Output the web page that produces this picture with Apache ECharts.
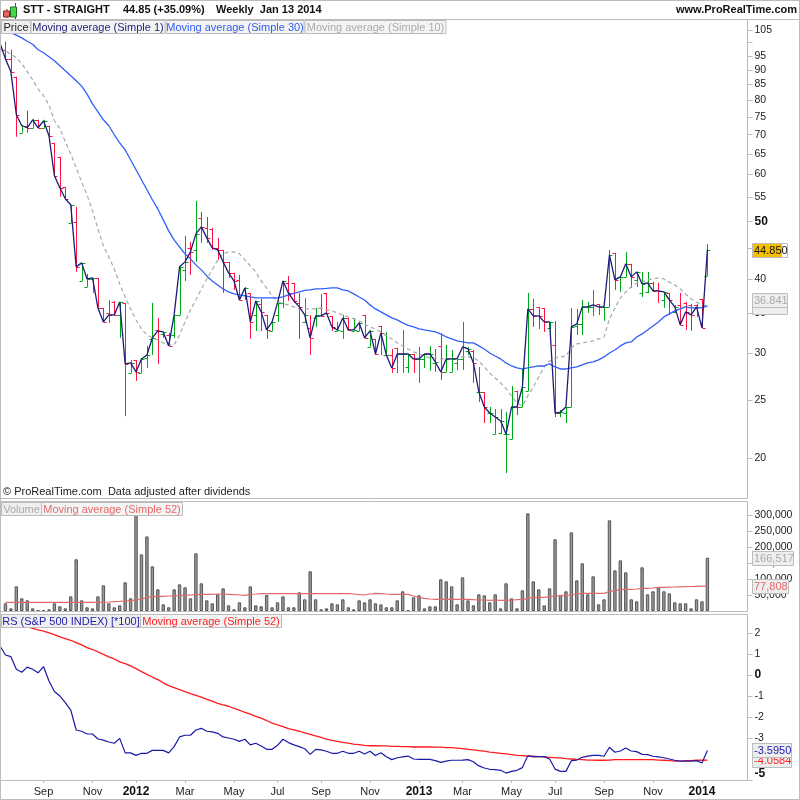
<!DOCTYPE html>
<html><head><meta charset="utf-8">
<style>html,body{margin:0;padding:0;background:#fff}#c{width:800px;height:800px}</style>
<script src="https://cdn.jsdelivr.net/npm/echarts@6/dist/echarts.min.js"></script>
</head><body><div id="c"></div>
<script>
const opens=[97.3,93.96,87.63,70.53,72.47,71.91,74.17,71.91,72.47,67.84,
64.26,57.2,49.75,49.94,39.72,38.81,40.03,40.19,35.78,35.09,
36.62,34.82,36.48,27.81,29.25,27.81,29.47,31.73,32.85,32.35,
32.22,32.22,34.82,41.46,45.15,44.8,50.72,48.79,48.6,45.15,
44.8,42.77,40.98,39.88,37.62,37.92,34.82,36.34,34.82,32.73,
34.82,36.48,39.41,39.41,36.48,33.89,33.11,34.42,35.78,37.92,
34.69,32.73,32.73,34.42,32.73,32.73,34.82,30.76,31.73,33.37,
29.82,29.82,30.64,29.93,28.46,29.93,29.36,29.36,29.93,28.91,
30.88,27.92,27.92,28.91,29.36,30.29,30.29,25.83,25.83,23.81,
21.95,22.03,21.95,21.53,25.94,24.37,25.94,35.64,35.92,35.78,
33.11,31.0,23.81,23.81,24.37,33.37,33.63,35.92,35.92,36.34,
35.92,35.92,44.28,40.35,40.35,42.44,39.88,37.92,38.06,39.41,
38.36,36.9,37.92,35.23,36.2,36.48,36.2,36.2,37.05,40.5];
const highs=[100.4,97.3,87.63,72.75,76.81,74.46,74.17,74.17,72.47,67.84,
64.26,57.2,53.35,52.93,42.6,40.82,40.19,40.19,35.78,36.9,
36.76,36.62,36.48,29.25,29.25,29.47,30.88,36.48,34.42,32.6,
32.47,34.82,41.95,47.3,46.22,54.18,51.9,50.9,48.79,46.94,
44.8,42.77,40.98,40.66,38.81,37.92,36.76,37.05,34.82,33.89,
36.48,39.72,40.5,39.41,37.92,37.19,34.82,35.78,37.77,37.92,
34.69,33.89,34.82,34.42,34.42,33.89,34.82,32.85,31.73,33.37,
32.6,30.52,30.64,32.85,29.93,29.93,30.76,29.93,30.88,30.52,
32.35,31.0,30.4,29.25,33.89,30.76,30.4,28.46,25.83,24.37,
24.18,24.18,23.9,26.45,25.94,28.24,37.92,37.05,35.92,35.78,
33.89,34.02,24.09,24.37,35.78,35.64,36.9,36.62,38.36,36.34,
35.92,44.8,44.28,40.35,44.45,42.44,41.14,41.14,41.14,39.57,
39.41,38.06,37.92,36.2,37.92,36.62,36.34,36.34,37.05,45.85];
const lows=[93.6,89.36,69.44,70.53,70.53,71.91,71.91,71.91,69.44,59.69,
55.02,54.6,49.75,41.14,39.72,38.81,37.92,35.78,33.89,33.76,
34.82,31.85,23.53,27.81,26.97,27.81,28.35,29.82,28.8,31.85,
30.88,31.85,34.82,39.72,40.66,42.77,46.03,46.03,44.8,43.1,
37.92,40.19,38.36,36.9,36.9,31.73,32.73,32.73,31.73,32.73,
33.89,35.78,36.76,36.48,31.73,33.76,29.82,33.24,34.69,35.09,
32.73,32.73,31.73,32.73,32.73,32.73,31.73,30.76,29.82,29.82,
29.82,27.81,27.81,27.81,27.81,27.81,26.76,28.35,28.03,27.92,
27.07,27.92,27.92,28.14,28.14,29.82,26.76,24.85,22.91,22.91,
21.95,21.95,18.87,21.53,23.62,24.37,25.94,33.24,32.98,32.6,
31.85,23.44,23.44,22.91,24.37,32.22,32.22,35.09,34.69,34.82,
34.02,35.92,38.36,38.06,40.35,38.66,38.81,37.33,37.92,38.06,
36.48,35.78,34.82,35.09,33.5,32.85,32.73,34.55,33.11,40.5];
const closes=[93.96,89.36,75.62,72.47,71.91,74.17,71.91,73.88,69.71,59.69,
56.98,54.6,53.35,41.95,42.6,40.03,40.19,35.78,33.89,34.82,
34.82,36.62,28.8,28.91,27.92,29.36,29.82,31.85,32.73,32.6,
30.88,34.82,41.95,42.77,44.45,47.67,48.98,46.94,45.15,44.8,
42.77,40.98,39.72,36.9,38.66,33.89,36.76,35.23,32.85,33.89,
36.48,39.72,37.92,36.76,35.92,34.82,31.85,34.69,34.69,35.09,
33.24,32.85,34.42,32.85,32.85,33.76,31.85,32.73,29.93,32.47,
29.82,28.35,29.93,29.93,29.93,29.36,29.36,29.93,29.93,29.02,
27.92,29.36,29.36,29.36,30.76,30.52,28.91,25.83,24.37,23.81,
23.44,23.09,21.95,24.37,24.37,26.34,35.64,34.69,34.69,33.89,
33.89,23.81,23.9,24.37,33.24,33.63,35.92,35.92,36.2,35.92,
35.92,43.94,39.88,40.35,42.44,40.35,41.14,39.26,39.41,38.21,
38.21,38.06,36.9,35.92,33.5,35.23,34.82,35.92,33.11,44.85];
const ma10=[96.93,95.62,94.33,92.17,89.36,86.61,83.64,81.41,78.62,73.89,
71.63,68.11,65.01,61.57,58.32,55.45,52.12,48.6,45.5,43.6,
41.62,39.26,37.33,35.64,34.15,32.98,32.22,31.85,31.6,31.24,
31.0,31.0,32.22,33.89,35.5,36.9,38.51,40.03,41.46,43.1,
44.11,44.45,44.45,44.11,43.1,42.11,41.14,39.72,38.66,37.48,
36.76,36.34,36.2,35.92,35.64,35.64,35.64,35.64,35.78,35.5,
35.37,35.09,34.82,34.55,34.29,34.02,33.63,33.24,32.98,32.6,
32.1,31.73,31.24,30.88,30.52,30.17,29.93,29.7,29.47,29.47,
29.36,29.36,29.36,29.47,29.59,29.59,29.47,29.13,28.46,27.81,
27.27,26.76,26.14,25.44,24.75,24.47,25.44,26.34,27.38,28.46,
29.13,29.47,29.59,29.7,30.64,31.12,31.24,31.36,31.48,31.73,
31.97,34.29,35.78,37.19,38.06,38.81,39.41,39.57,39.88,40.03,
40.19,40.03,39.57,39.11,38.51,37.77,37.05,36.62,36.2,36.06];
const ma30=[105.15,103.94,102.94,101.86,100.55,99.4,97.3,96.18,94.7,93.25,
91.46,89.7,88.0,86.3,84.5,81.9,78.9,76.5,74.17,72.47,
69.98,67.84,65.98,63.52,61.1,58.8,56.55,54.4,52.5,50.33,
48.23,46.58,45.3,44.11,43.27,42.27,41.46,40.5,39.72,39.11,
38.51,38.06,37.77,37.62,37.48,37.33,37.19,37.19,37.19,37.19,
37.19,37.33,37.62,37.84,38.06,38.28,38.36,38.51,38.51,38.58,
38.66,38.66,38.36,38.21,37.77,37.33,36.9,36.2,35.64,35.23,
34.82,34.42,34.15,33.76,33.43,33.24,32.98,32.85,32.73,32.6,
32.35,31.97,31.73,31.48,31.36,31.24,31.24,30.88,30.52,30.05,
29.7,29.36,28.91,28.57,28.35,28.24,28.35,28.46,28.57,28.57,
28.8,28.46,28.24,28.24,28.35,28.46,28.69,28.91,29.02,29.25,
29.59,30.05,30.4,30.88,31.24,31.36,31.97,32.35,32.85,33.37,
33.89,34.55,34.96,35.37,35.64,35.92,35.78,35.78,35.78,36.06];
const volumes=[24000,8300,77000,39600,33300,8300,2000,2000,5200,24000,
14600,8300,45800,161500,33300,11500,8300,45800,80200,24000,
11500,17700,89600,39600,306000,177000,233000,139600,67700,20800,
11500,67700,83300,74000,39600,180200,86500,33300,24000,52100,
70800,17700,5200,27100,11500,77000,17700,14600,50000,11500,
27100,45800,11500,11500,58300,36500,124000,36500,5200,8300,
24000,20800,36500,11500,5200,33300,27100,36500,24000,20800,
11500,11500,33300,61500,2000,42700,49000,8300,14600,14600,
99000,92700,77000,20800,105200,33300,17700,52100,49000,27100,
52100,8300,86500,39600,8300,64600,305200,92700,67700,17700,
70800,224000,49000,61500,245800,95800,149000,52100,108300,20800,
36500,283300,127100,158300,120800,36500,30200,136500,52100,61500,
74000,61500,55200,27100,24000,24000,8300,36500,30200,166517];
const volumeMA=[27100,27100,27100,27100,27100,27100,27100,27100,27100,27100,
27100,27100,27100,27100,27100,27100,27100,27100,27100,28100,
29200,30200,31300,32300,34400,37500,42700,44800,45800,45800,
46900,46900,47900,49000,50000,51000,52100,52100,52100,53100,
53100,52100,51000,50000,49000,52100,53100,54200,54200,54200,
54200,54200,54200,54200,54200,54200,54200,54200,54200,54200,
54200,54200,54200,54200,53100,51000,50000,53100,55200,54200,
53100,52100,52100,52100,52100,46900,42700,39600,37500,36500,
36500,36500,36500,36500,36500,36500,35400,34400,34400,33300,
34400,33300,33300,34400,35400,36500,39600,42700,42700,42700,
44800,46900,47900,49000,50000,53100,55200,55200,55200,55200,
55200,60400,64600,66700,67700,67700,68800,70800,70800,71900,
74000,74000,74500,75000,75500,76000,76500,77000,77500,77808];
const rsValues=[0.95,0.87,0.27,0.13,0.37,0.27,0.10,0.40,-0.29,-0.79,
-1.00,-1.32,-1.67,-2.62,-2.68,-2.81,-2.81,-3.05,-3.10,-3.19,
-3.25,-3.02,-3.71,-3.71,-3.83,-3.73,-3.73,-3.59,-3.59,-3.59,
-3.71,-3.41,-2.95,-2.87,-2.87,-2.62,-2.54,-2.68,-2.71,-2.78,
-2.95,-3.00,-3.06,-3.16,-3.06,-3.33,-3.25,-3.38,-3.54,-3.54,
-3.35,-3.06,-3.22,-3.33,-3.41,-3.51,-3.78,-3.54,-3.57,-3.63,
-3.73,-3.73,-3.63,-3.73,-3.73,-3.63,-3.76,-3.63,-3.83,-3.70,
-3.89,-4.03,-3.94,-3.90,-3.86,-4.00,-4.02,-4.02,-4.02,-4.08,
-4.16,-4.10,-4.06,-4.06,-4.05,-4.03,-4.13,-4.33,-4.43,-4.49,
-4.51,-4.54,-4.67,-4.59,-4.54,-4.41,-3.84,-3.90,-3.89,-3.89,
-4.00,-4.48,-4.59,-4.59,-4.08,-4.05,-3.92,-3.86,-3.83,-3.83,
-3.87,-3.44,-3.68,-3.62,-3.48,-3.62,-3.65,-3.78,-3.79,-3.87,
-3.90,-3.94,-4.00,-4.06,-4.10,-4.10,-4.10,-4.08,-4.19,-3.595];
const rsMA=[2.65,2.57,2.49,2.40,2.30,2.22,2.14,2.08,2.00,1.92,
1.81,1.73,1.65,1.54,1.43,1.30,1.21,1.10,0.98,0.86,
0.76,0.62,0.54,0.43,0.30,0.16,0.03,-0.10,-0.22,-0.38,
-0.51,-0.60,-0.70,-0.79,-0.89,-0.97,-1.06,-1.16,-1.25,-1.35,
-1.43,-1.49,-1.59,-1.68,-1.78,-1.87,-1.97,-2.06,-2.17,-2.29,
-2.38,-2.46,-2.56,-2.62,-2.68,-2.76,-2.83,-2.90,-2.97,-3.05,
-3.11,-3.16,-3.21,-3.25,-3.29,-3.32,-3.35,-3.37,-3.37,-3.38,
-3.38,-3.40,-3.40,-3.41,-3.41,-3.43,-3.43,-3.43,-3.43,-3.44,
-3.44,-3.46,-3.46,-3.48,-3.51,-3.54,-3.57,-3.60,-3.63,-3.67,
-3.70,-3.73,-3.76,-3.79,-3.83,-3.84,-3.86,-3.87,-3.89,-3.90,
-3.92,-3.94,-3.95,-3.98,-4.00,-4.02,-4.03,-4.05,-4.05,-4.06,
-4.06,-4.05,-4.03,-4.03,-4.03,-4.03,-4.03,-4.03,-4.03,-4.03,
-4.05,-4.06,-4.08,-4.10,-4.10,-4.08,-4.08,-4.06,-4.06,-4.0584];
// values of the week just before the first full bar, at the frame's left edge
const priorClose=99.8, priorMa10=97.3, priorMa30=106, priorRs=1.38, priorRsMA=2.72;

const priceTicks=[105,100,95,90,85,80,75,70,65,60,55,50,45,40,35,30,25,20];
const priceTickLabels=[105,95,90,85,80,75,70,65,60,55,50,40,35,30,25,20];
const priceBold=[50];
const volumeTicks=[300000,250000,200000,150000,100000,50000];
const rsTicks=[2,1,0,-1,-2,-3,-5];
const rsBold=[0,-5];
const timeTickBars=[7,16,24,33,42,50,58,67,76,84,93,101,110,119,128];
const timeTickLabels=['Sep','Nov','2012','Mar','May','Jul','Sep','Nov','2013','Mar','May','Jul','Sep','Nov','2014'];
const slotCount=138;

[opens,highs,lows,closes,ma10,ma30,volumes,volumeMA,rsValues,rsMA].forEach((a,i)=>{if(a.length!==130)throw new Error('len '+i+' '+a.length)});

const slots=Array.from({length:slotCount},(_,i)=>String(i));
const barData=closes.map((c,j)=>[j+1,opens[j],highs[j],lows[j],c]);
const FONT='"Liberation Sans",Arial,sans-serif';
const GRAY='#bcbcbc';
const X={left:0,width:745.5};

function xAxis(gridIndex,show){
  return {type:'category',gridIndex,data:slots,boundaryGap:false,show,
    axisLine:{show,onZero:false,lineStyle:{color:GRAY}},
    axisTick:{show,length:3,interval:i=>timeTickBars.includes(i-1),lineStyle:{color:GRAY}},
    axisLabel:{show,color:'#222',fontFamily:FONT,fontSize:11,margin:6,hideOverlap:false,
      interval:i=>timeTickBars.includes(i-1),
      formatter:(v,i)=>{const k=timeTickBars.indexOf(i-1);if(k<0)return '';const t=timeTickLabels[k];return /^\d/.test(t)?`{y|${t}}`:t;},
      rich:{y:{fontWeight:'bold',fontSize:12,fontFamily:FONT,color:'#111'}}},
    splitLine:{show:false}};
}
function yAxis(gridIndex,extra){
  return Object.assign({gridIndex,position:'right',offset:2,splitLine:{show:false},
    axisLine:{show:false},
    axisTick:{show:true,length:5,lineStyle:{color:GRAY}}},extra);
}
const labelBase={color:'#222',fontFamily:FONT,fontSize:10.5,margin:7,hideOverlap:false,showMinLabel:true,showMaxLabel:true};

function endTag(xi,yi,value,parts){
  return {type:'custom',xAxisIndex:xi,yAxisIndex:yi,clip:false,silent:true,z:20,
    data:[[130,value]],
    renderItem:(p,api)=>{
      const c=api.coord([api.value(0),api.value(1)]);
      const y=Math.round(c[1])+.5;
      const children=[];
      (parts.extra||[]).forEach(e=>children.push({type:'rect',shape:{x:752.5,y:y+e.dy,width:parts.w,height:e.h},style:{fill:'#eee',stroke:GRAY}}));
      children.push({type:'rect',shape:{x:752.5,y:y-7,width:parts.w,height:14},style:{fill:parts.bg||'#eee',stroke:GRAY}});
      if(parts.gold)children.push({type:'rect',shape:{x:753,y:y-6.5,width:parts.gold,height:13},style:{fill:'#f6c000'}});
      children.push({type:'text',style:{x:754,y:y,text:parts.text,fill:parts.color,font:'11px '+FONT,verticalAlign:'middle',rich:parts.rich}});
      return {type:'group',children};
    }};
}

const tagList=[
 // text, x, y, width, height, text color, fill
 ['Price',1.5,20.5,29,13,'#222','#efefef'],
 ['Moving average (Simple 1)',31,20.5,134,13,'#23237f','#f4f4f4'],
 ['Moving average (Simple 30)',166,20.5,138,13,'#2f5cf0','#f4f4f4'],
 ['Moving average (Simple 10)',305,20.5,141,13,'#aaaaaa','#f4f4f4'],
 ['Volume',1.5,502.5,40,13,'#aaaaaa','#efefef'],
 ['Moving average (Simple 52)',41.5,502.5,141,13,'#e26a6a','#f4f4f4'],
 ['RS (S&P 500 INDEX) [*100]',1.5,614.5,139,13,'#2222aa','#efefef'],
 ['Moving average (Simple 52)',140.5,614.5,141,13,'#ff2020','#f4f4f4']
];
const frame=[[0,0.5,800,0.5],[0,19.5,800,19.5],[0.5,0,0.5,800],[799.5,0,799.5,800],[0,799.5,800,799.5],
 [0,498.5,747,498.5],[0,501.5,747,501.5],[0,611.5,747,611.5],[0,614.5,747,614.5],[0,780.5,747,780.5],
 [747.5,19,747.5,499],[747.5,501,747.5,612],[747.5,614,747.5,781]];
const graphic=[];
frame.forEach(f=>graphic.push({type:'line',silent:true,z:50,shape:{x1:f[0],y1:f[1],x2:f[2],y2:f[3]},style:{stroke:GRAY,lineWidth:1}}));
tagList.forEach(t=>{
  graphic.push({type:'rect',silent:true,z:60,shape:{x:t[1],y:t[2],width:t[3],height:t[4]},style:{fill:t[6],stroke:GRAY}});
  graphic.push({type:'text',silent:true,z:61,x:t[1]+t[3]/2,y:t[2]+t[4]/2+0.5,style:{text:t[0],fill:t[5],font:'11px '+FONT,align:'center',verticalAlign:'middle'}});
});
[['STT - STRAIGHT',23,10,'left'],['44.85 (+35.09%)',123,10,'left'],['Weekly  Jan 13 2014',216,10,'left'],['www.ProRealTime.com',797,10,'right']].forEach(t=>
  graphic.push({type:'text',silent:true,z:61,x:t[1],y:t[2],style:{text:t[0],fill:'#111',font:'bold 11px '+FONT,align:t[3],verticalAlign:'middle'}}));
graphic.push({type:'text',silent:true,z:61,x:3,y:492,style:{text:'\u00a9 ProRealTime.com  Data adjusted after dividends',fill:'#222',font:'11px '+FONT,align:'left',verticalAlign:'middle'}});
// title icon: small candles
[[4,11,6,6,'#e86060','#8a2020',5.5,9,18],[11,7,6,10,'#44d844','#207020',14,3,19]].forEach(k=>{
  graphic.push({type:'line',silent:true,z:60,shape:{x1:k[6]+1.5,y1:k[7],x2:k[6]+1.5,y2:k[8]},style:{stroke:k[5]}});
  graphic.push({type:'rect',silent:true,z:61,shape:{x:k[0]-.5,y:k[1],width:k[2],height:k[3]},style:{fill:k[4],stroke:k[5]}});
});

const chart=echarts.init(document.getElementById('c'),null,{renderer:'canvas',width:800,height:800});
chart.setOption({
  animation:false,backgroundColor:'#fff',
  grid:[
    Object.assign({top:19,height:479},X),
    Object.assign({top:501,height:110},X),
    Object.assign({top:614,height:166},X)
  ],
  xAxis:[xAxis(0,false),xAxis(1,false),xAxis(2,true)],
  yAxis:[
    yAxis(0,{type:'log',logBase:10,min:17.13,max:109.6,
      axisTick:{show:true,length:5,lineStyle:{color:GRAY},customValues:priceTicks},
      axisLabel:Object.assign({},labelBase,{customValues:priceTickLabels,
        formatter:v=>priceBold.includes(Math.round(v))?`{b|${Math.round(v)}}`:String(Math.round(v)),
        rich:{b:{fontWeight:'bold',fontSize:12,fontFamily:FONT,color:'#111'}}})}),
    yAxis(1,{type:'value',min:0,max:343750,
      axisTick:{show:true,length:5,lineStyle:{color:GRAY},customValues:volumeTicks},
      axisLabel:Object.assign({},labelBase,{customValues:volumeTicks,formatter:v=>v.toLocaleString('en-US')})}),
    yAxis(2,{type:'value',min:-5,max:2.9,
      axisTick:{show:true,length:5,lineStyle:{color:GRAY},customValues:rsTicks},
      axisLabel:Object.assign({},labelBase,{customValues:rsTicks,
        formatter:v=>v===-5?`{m|${v}}`:(rsBold.includes(v)?`{b|${v}}`:String(v)),
        rich:{b:{fontWeight:'bold',fontSize:12,fontFamily:FONT,color:'#111'},
              m:{fontWeight:'bold',fontSize:12,fontFamily:FONT,color:'#111',padding:[0,0,12,0]}}})})
  ],
  graphic,
  series:[
    {name:'Price',type:'custom',xAxisIndex:0,yAxisIndex:0,z:2,silent:true,clip:true,
     encode:{x:0,y:[1,2,3,4]},data:barData,
     renderItem:(p,api)=>{
       const i=api.value(0),o=api.value(1),h=api.value(2),l=api.value(3),c=api.value(4);
       const col=c>=o?'#00a818':'#ff1444';
       const x=Math.round(api.coord([i,h])[0])+.5;
       const yh=api.coord([i,h])[1],yl=api.coord([i,l])[1];
       const yo=Math.round(api.coord([i,o])[1])+.5,yc=Math.round(api.coord([i,c])[1])+.5;
       const style={stroke:col,lineWidth:1,fill:null};
       return {type:'group',children:[
         {type:'line',shape:{x1:x,y1:yh,x2:x,y2:yl},style},
         {type:'line',shape:{x1:x-3,y1:yo,x2:x,y2:yo},style},
         {type:'line',shape:{x1:x,y1:yc,x2:x+3,y2:yc},style}]};
     }},
    {name:'MA10',type:'line',xAxisIndex:0,yAxisIndex:0,z:3,data:[priorMa10,...ma10],showSymbol:false,silent:true,
     lineStyle:{color:'#a8a8a8',width:1.2,type:[4,3]}},
    {name:'MA30',type:'line',xAxisIndex:0,yAxisIndex:0,z:4,data:[priorMa30,...ma30],showSymbol:false,silent:true,
     lineStyle:{color:'#3060f8',width:1.3}},
    {name:'MA1',type:'line',xAxisIndex:0,yAxisIndex:0,z:5,data:[priorClose,...closes],showSymbol:false,silent:true,
     lineStyle:{color:'#1c1c78',width:1.3}},
    {name:'Volume',type:'bar',xAxisIndex:1,yAxisIndex:1,z:2,data:[null,...volumes],barWidth:3.4,silent:true,
     itemStyle:{color:'#9a9a9a',borderColor:'#555',borderWidth:1}},
    {name:'VolumeMA',type:'line',xAxisIndex:1,yAxisIndex:1,z:3,data:[null,...volumeMA],showSymbol:false,silent:true,
     lineStyle:{color:'#e26a6a',width:1.2}},
    {name:'RS',type:'line',xAxisIndex:2,yAxisIndex:2,z:3,data:[priorRs,...rsValues],showSymbol:false,silent:true,
     lineStyle:{color:'#1a1aa8',width:1.2}},
    {name:'RSMA',type:'line',xAxisIndex:2,yAxisIndex:2,z:2,data:[priorRsMA,...rsMA],showSymbol:false,silent:true,
     lineStyle:{color:'#ff1c1c',width:1.3}},
    endTag(0,0,closes[129],{w:35,gold:29,bg:'#fff',color:'#111',text:'{a|44.85}{b|0}',rich:{a:{color:'#111',font:'11px '+FONT},b:{color:'#22227f',font:'11px '+FONT}}}),
    endTag(0,0,36.841,{w:35,color:'#aaa',text:'36.841',extra:[{dy:3,h:11}]}),
    endTag(1,1,166517,{w:41,color:'#aaa',text:'166,517'}),
    endTag(1,1,77808,{w:36,color:'#e26a6a',text:'77,808'}),
    endTag(2,2,-4.0584,{w:39,color:'#ff2020',text:'-4.0584'}),
    endTag(2,2,-3.595,{w:39,color:'#2222aa',text:'-3.5950'})
  ]
});
</script></body></html>
